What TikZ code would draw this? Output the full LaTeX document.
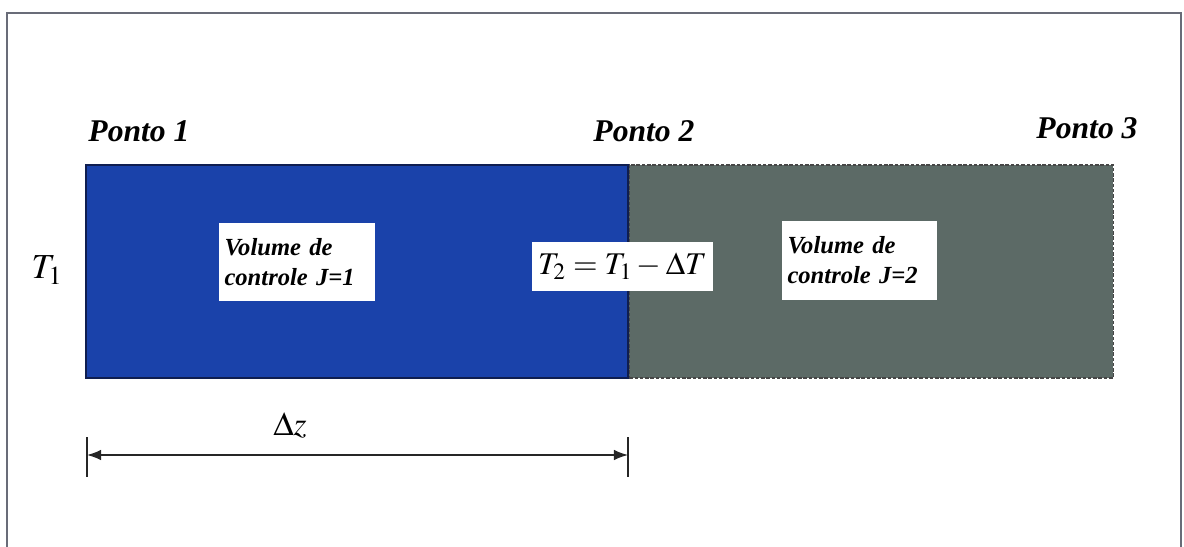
\documentclass[tikz,border=0pt]{standalone}
\usepackage{mathptmx}
\usepackage{fontspec}
\setmainfont{Liberation Serif}
\usepackage{xcolor}
\usepackage{tikz}
\usetikzlibrary{arrows.meta, positioning}
\definecolor{cvblue}{RGB}{26,66,170}
\definecolor{cvnavy}{RGB}{15,30,80}
\definecolor{cvgray}{RGB}{92,106,102}
\definecolor{cvdark}{RGB}{70,70,70}
\definecolor{framegray}{RGB}{105,108,120}

\begin{document}
\begin{tikzpicture}[
    x=0.02cm, y=-0.02cm,
    volume/.style={
        rectangle,
        minimum height=4.26cm,
        inner sep=0pt
    },
    label/.style={
        rectangle,
        fill=white,
        inner sep=3pt,
        align=left,
        font=\fontsize{14}{17}\selectfont\bfseries\itshape
    },
    ponto/.style={font=\fontsize{18}{20}\selectfont\bfseries\itshape},
    arrow/.style={{Latex[length=8pt,width=6pt]}-{Latex[length=8pt,width=6pt]}, thick, color=black!85}
]
\useasboundingbox (0,0) rectangle (1184,547);
\draw[framegray, line width=0.9pt] (7,547) -- (7,13) -- (1181,13) -- (1181,547);

\node[volume, fill=cvblue, draw=cvnavy, thick, minimum width=10.84cm] (vol1) at (357,271.5) {};
\node[volume, fill=cvgray, draw=cvdark, thick, dash pattern=on 2pt off 1pt, minimum width=9.68cm, right=0pt of vol1] (vol2) {};

\node[label, minimum width=3.12cm, minimum height=1.56cm, text width=2.9cm] (lab1) at (297,262) {Volume de\\controle J=1};
\node[label, minimum width=3.1cm, minimum height=1.58cm, text width=2.88cm] (lab2) at (859.5,260.5) {Volume de\\controle J=2};
\node[rectangle, fill=white, inner sep=1pt, minimum width=3.62cm, minimum height=0.98cm, font=\fontsize{18}{20}\selectfont] (temp2) at (622.5,266.5) {$T_2 = T_1 - \Delta T$};

\node[ponto] (ponto1) at (139,131) {Ponto 1};
\node[ponto] (ponto2) at (644,131) {Ponto 2};
\node[ponto] (ponto3) at (1087,128) {Ponto 3};

\node[font=\fontsize{20}{22}\selectfont] (temp1) at (47,270) {$T_1$};
\node[font=\fontsize{19}{22}\selectfont] (dz) at (290,425) {$\Delta z$};

\coordinate (dzL) at (87,455);
\coordinate (dzR) at (628,455);
\draw[thick, black!85] (dzL) ++(0,-18) -- ++(0,40);
\draw[thick, black!85] (dzR) ++(0,-18) -- ++(0,40);
\draw[arrow] (dzL) -- (dzR);

\end{tikzpicture}
\end{document}
